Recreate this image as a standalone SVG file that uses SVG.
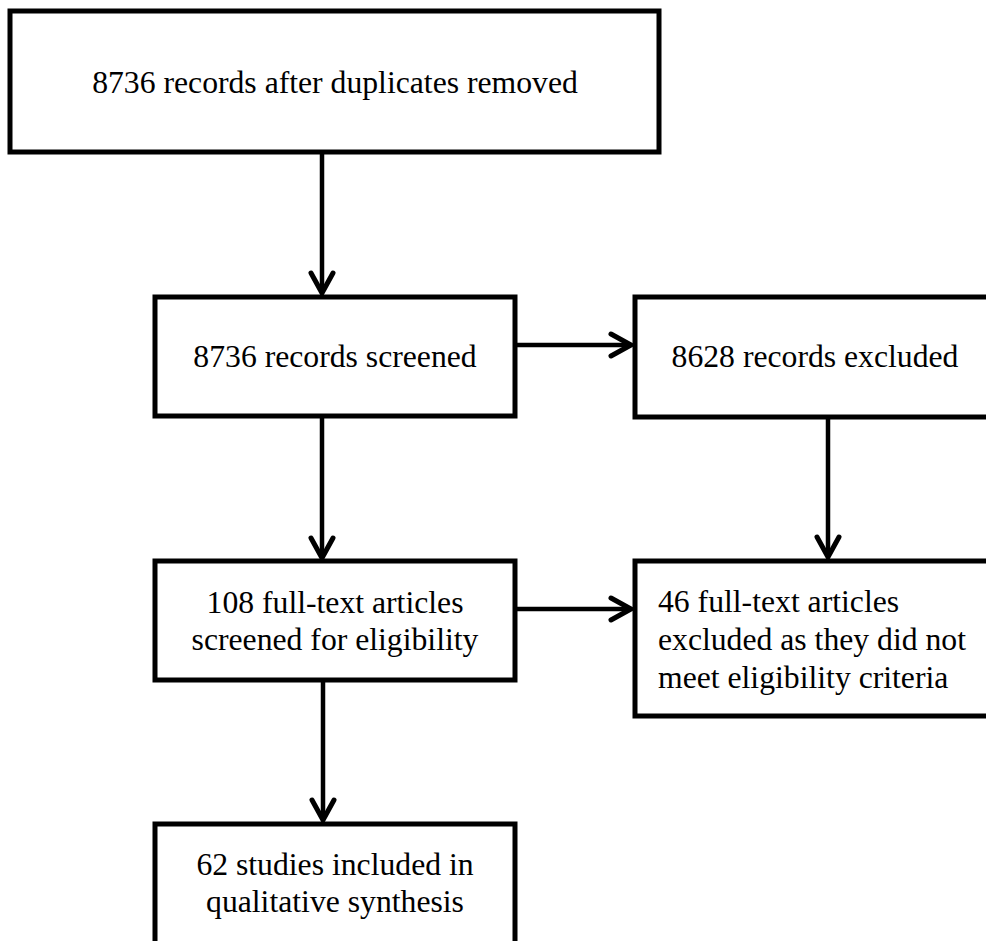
<svg xmlns="http://www.w3.org/2000/svg" width="986" height="941" viewBox="0 0 986 941">
  <style>
    .box { fill: #ffffff; stroke: #000000; stroke-width: 5; stroke-linejoin: miter; }
    .lbl { font-family: "Liberation Serif", "Times New Roman", serif; font-size: 31.7px; fill: #000000; }
    .c { text-anchor: middle; }
    .conn { fill: none; stroke: #000000; stroke-width: 4.5; marker-end: url(#arr); }
  </style>
  <defs>
    <marker id="arr" markerUnits="userSpaceOnUse" viewBox="-26 -16 32 32" markerWidth="32" markerHeight="32" refX="0" refY="0" orient="auto" overflow="visible">
      <path d="M -20 -11 L 0 0 L -20 11" fill="none" stroke="#000000" stroke-width="5" stroke-linecap="round" stroke-linejoin="miter"/>
    </marker>
  </defs>
  <rect width="986" height="941" fill="#ffffff"/>

  <g id="connectors">
    <line class="conn" x1="322" y1="152" x2="322" y2="293"/>
    <line class="conn" x1="515" y1="345" x2="631" y2="345"/>
    <line class="conn" x1="322" y1="416" x2="322" y2="558"/>
    <line class="conn" x1="828" y1="417" x2="828" y2="557"/>
    <line class="conn" x1="515" y1="609" x2="631" y2="609"/>
    <line class="conn" x1="323" y1="680" x2="323" y2="820"/>
  </g>

  <g id="n1">
    <rect class="box" x="10" y="11" width="649" height="141"/>
    <text class="lbl c" x="335" y="93">8736 records after duplicates removed</text>
  </g>
  <g id="n2">
    <rect class="box" x="155" y="297" width="360" height="119"/>
    <text class="lbl c" x="335" y="367">8736 records screened</text>
  </g>
  <g id="n3">
    <rect class="box" x="635" y="297" width="360" height="120"/>
    <text class="lbl c" x="815" y="367">8628 records excluded</text>
  </g>
  <g id="n4">
    <rect class="box" x="155" y="561" width="360" height="119"/>
    <text class="lbl c" x="335" y="613">108 full-text articles</text>
    <text class="lbl c" x="335" y="650">screened for eligibility</text>
  </g>
  <g id="n5">
    <rect class="box" x="635" y="561" width="360" height="155"/>
    <text class="lbl" x="658" y="612">46 full-text articles</text>
    <text class="lbl" x="658" y="650">excluded as they did not</text>
    <text class="lbl" x="658" y="688">meet eligibility criteria</text>
  </g>
  <g id="n6">
    <rect class="box" x="155" y="824" width="360" height="140"/>
    <text class="lbl c" x="335" y="875">62 studies included in</text>
    <text class="lbl c" x="335" y="912">qualitative synthesis</text>
  </g>
</svg>
